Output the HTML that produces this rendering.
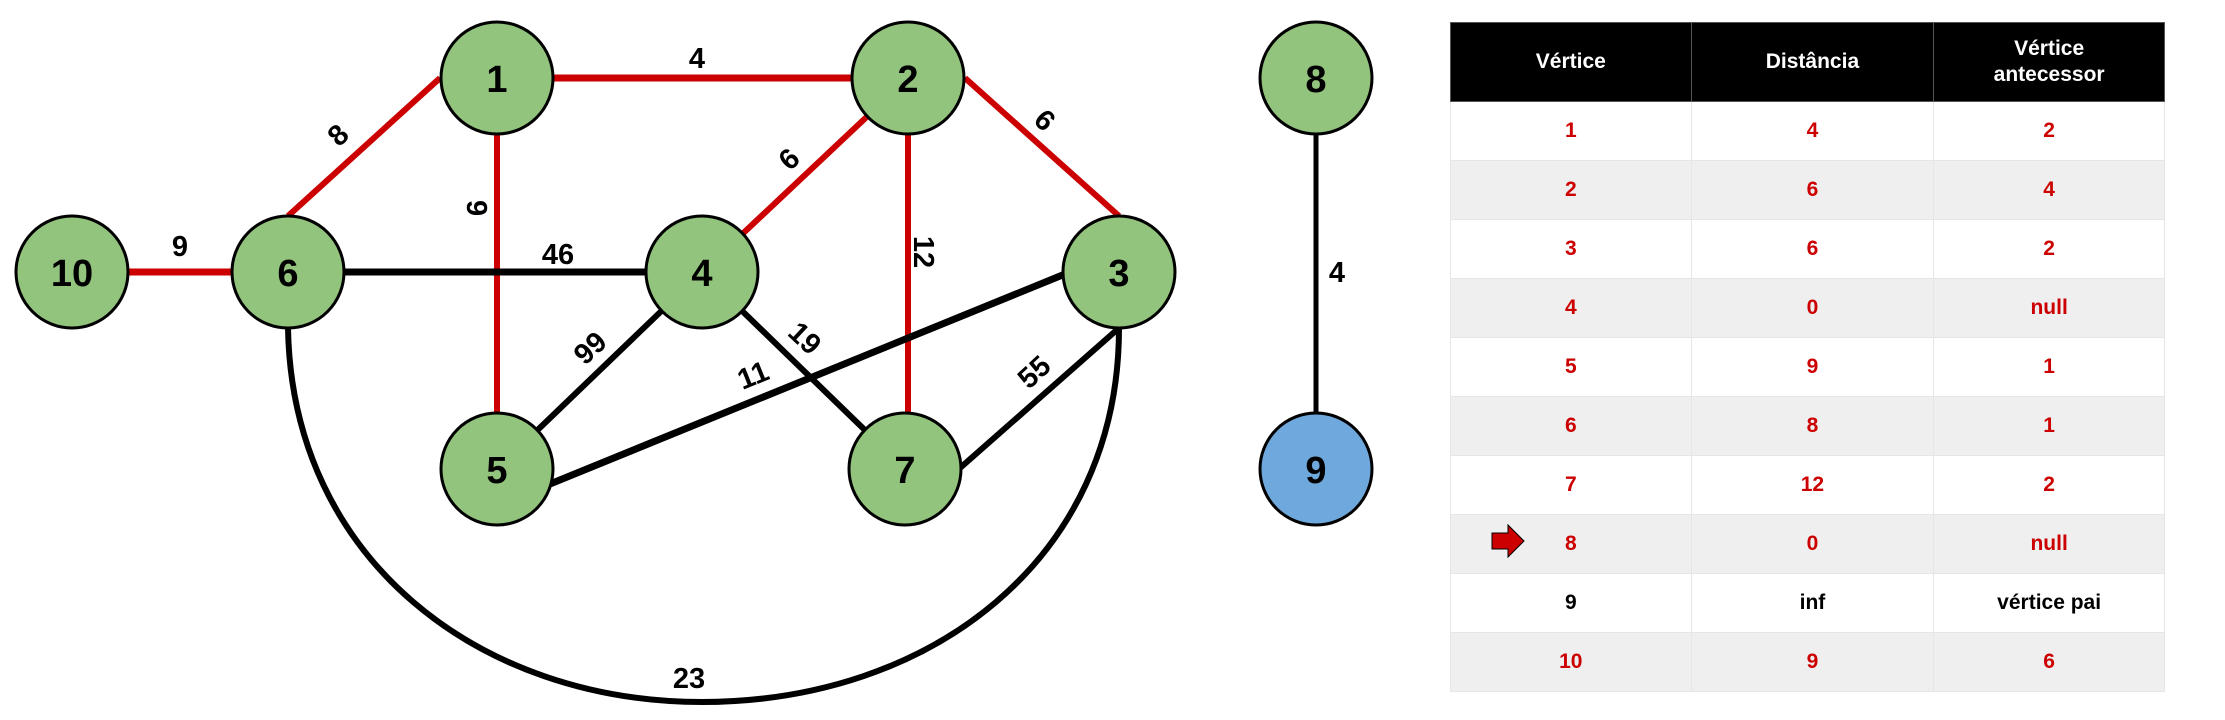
<!DOCTYPE html>
<html><head><meta charset="utf-8"><style>
html,body{margin:0;padding:0;background:#fff;}
body{width:2225px;height:720px;position:relative;overflow:hidden;font-family:"Liberation Sans",Arial,sans-serif;}
svg{position:absolute;left:0;top:0;}
table{position:absolute;left:1450px;top:22px;border-collapse:collapse;width:715px;font-weight:bold;font-size:21px;}
td,th{text-align:center;padding:0;border:1px solid #e6e6e6;}
th{background:#000;color:#fff;height:78px;border-color:#555;font-size:21px;line-height:26px;}
td{height:58px;color:#cc0000;}
tr:nth-child(odd) td{background:#efefef;}
#arrow{position:absolute;left:0;top:0;z-index:5;}
</style></head><body>
<svg width="2225" height="720" viewBox="0 0 2225 720">
<g fill="none" stroke-linecap="butt">
<line x1="72" y1="272" x2="288" y2="272" stroke="#cc0000" stroke-width="7"/>
<line x1="497" y1="78" x2="908" y2="78" stroke="#cc0000" stroke-width="7"/>
<line x1="288" y1="216" x2="440" y2="78" stroke="#cc0000" stroke-width="6"/>
<line x1="497" y1="78" x2="497" y2="469" stroke="#cc0000" stroke-width="6"/>
<line x1="908" y1="78" x2="702" y2="272" stroke="#cc0000" stroke-width="6"/>
<line x1="908" y1="78" x2="908" y2="469" stroke="#cc0000" stroke-width="6"/>
<line x1="965" y1="78" x2="1119" y2="216" stroke="#cc0000" stroke-width="6"/>
<line x1="288" y1="272" x2="702" y2="272" stroke="#000" stroke-width="7"/>
<line x1="702" y1="272" x2="497" y2="469" stroke="#000" stroke-width="6"/>
<line x1="702" y1="272" x2="905" y2="469" stroke="#000" stroke-width="6"/>
<line x1="550" y1="484" x2="1065" y2="274" stroke="#000" stroke-width="7"/>
<line x1="960" y1="468" x2="1119" y2="328" stroke="#000" stroke-width="6"/>
<line x1="1316" y1="78" x2="1316" y2="469" stroke="#000" stroke-width="5"/>
<path d="M288,328 C292,560 480,702 702,702 C930,702 1119,560 1119,328" stroke="#000" stroke-width="6"/>
</g>
<g stroke="#000" stroke-width="3" fill="#93c47d">
<circle cx="497" cy="78" r="56"/><circle cx="908" cy="78" r="56"/><circle cx="1316" cy="78" r="56"/>
<circle cx="72" cy="272" r="56"/><circle cx="288" cy="272" r="56"/><circle cx="702" cy="272" r="56"/><circle cx="1119" cy="272" r="56"/>
<circle cx="497" cy="469" r="56"/><circle cx="905" cy="469" r="56"/>
<circle cx="1316" cy="469" r="56" fill="#6fa8dc"/>
</g>
<g font-family="Liberation Sans, Arial, sans-serif" font-weight="bold" font-size="38" text-anchor="middle" fill="#000">
<text x="497" y="92">1</text><text x="908" y="92">2</text><text x="1316" y="92">8</text>
<text x="72" y="286">10</text><text x="288" y="286">6</text><text x="702" y="286">4</text><text x="1119" y="286">3</text>
<text x="497" y="483">5</text><text x="905" y="483">7</text><text x="1316" y="483">9</text>
</g>
<g font-family="Liberation Sans, Arial, sans-serif" font-weight="bold" font-size="29" text-anchor="middle" fill="#000">
<text x="697" y="68">4</text>
<text x="180" y="256">9</text>
<text x="558" y="264">46</text>
<text x="689" y="688">23</text>
<text x="1337" y="282">4</text>
<text transform="translate(338,135) rotate(-43)" y="10">8</text>
<text transform="translate(477,208) rotate(90)" y="10">9</text>
<text transform="translate(789,159) rotate(-43)" y="10">6</text>
<text transform="translate(1045,120) rotate(43)" y="10">6</text>
<text transform="translate(924,252) rotate(90)" y="10">12</text>
<text transform="translate(590,348) rotate(-43)" y="10">99</text>
<text transform="translate(805,338) rotate(43)" y="10">19</text>
<text transform="translate(753,375) rotate(-22)" y="10">11</text>
<text transform="translate(1034,372) rotate(-43)" y="10">55</text>
</g>
</svg>
<table>
<colgroup><col style="width:241px"><col style="width:243px"><col style="width:231px"></colgroup>
<tr><th>Vértice</th><th>Distância</th><th>Vértice<br>antecessor</th></tr>
<tr><td>1</td><td>4</td><td>2</td></tr>
<tr><td>2</td><td>6</td><td>4</td></tr>
<tr><td>3</td><td>6</td><td>2</td></tr>
<tr><td>4</td><td>0</td><td>null</td></tr>
<tr><td>5</td><td>9</td><td>1</td></tr>
<tr><td>6</td><td>8</td><td>1</td></tr>
<tr><td>7</td><td>12</td><td>2</td></tr>
<tr><td>8</td><td>0</td><td>null</td></tr>
<tr><td style="color:#000">9</td><td style="color:#000">inf</td><td style="color:#000">vértice pai</td></tr>
<tr><td>10</td><td>9</td><td>6</td></tr>
</table>
<svg id="arrow" width="2225" height="720" viewBox="0 0 2225 720">
<polygon points="1492,533 1508,533 1508,525 1524,541 1508,557 1508,549 1492,549" fill="#cc0000" stroke="#000" stroke-width="1"/>
</svg>
</body></html>
